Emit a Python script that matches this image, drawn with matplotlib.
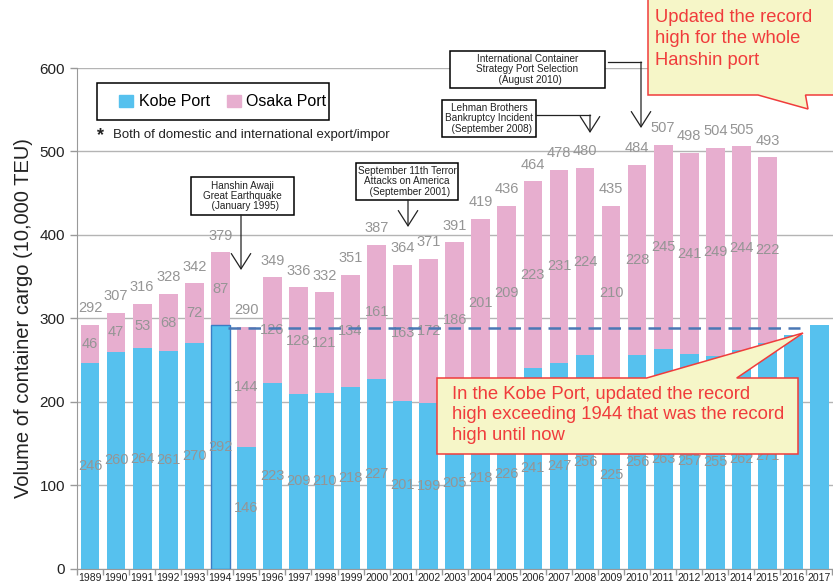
import numpy as np
import matplotlib
matplotlib.use("Agg")
import matplotlib.pyplot as plt
from matplotlib.patches import Polygon, Rectangle, Patch, FancyArrowPatch

plt.rcParams['font.family'] = ['Liberation Sans', 'DejaVu Sans']

# ---------------- data ----------------
years = [str(y) for y in range(1989, 2018)]
kobe = [246, 260, 264, 261, 270, 292, 146, 223, 209, 210, 218, 227, 201, 199, 205,
        218, 226, 241, 247, 256, 225, 256, 263, 257, 255, 262, 271, 280, 292]
osaka = [46, 47, 53, 68, 72, 87, 144, 126, 128, 121, 134, 161, 163, 172, 186,
         201, 209, 223, 231, 224, 210, 228, 245, 241, 249, 244, 222]
totals = [292, 307, 316, 328, 342, 379, 290, 349, 336, 332, 351, 387, 364, 371, 391,
          419, 436, 464, 478, 480, 435, 484, 507, 498, 504, 505, 493]
kobe_labelled = 27          # Kobe values printed for 1989-2015 only
record_level = 289          # dashed "record" line level
record_year_idx = 5         # 1994

blue = '#56C1EE'
pink = '#E7AECF'
label_gray = '#959595'

W, H = 833, 585
fig = plt.figure(figsize=(W / 100, H / 100), dpi=100)

def P(x, y):
    """image pixel -> figure fraction"""
    return (x / W, 1 - y / H)

ax_left, ax_top, ax_bottom = 77, 68, 568.7
ax = fig.add_axes([ax_left / W, 1 - ax_bottom / H, 1 - ax_left / W, (ax_bottom - ax_top) / H])

x = np.arange(len(years))
n_os = len(osaka)
kobe_arr = np.array(kobe, dtype=float)
osaka_arr = np.array(osaka, dtype=float)

ax.bar(x, kobe_arr, width=0.72, color=blue, zorder=2)
ax.bar(x[:n_os], osaka_arr, bottom=kobe_arr[:n_os], width=0.72, color=pink, zorder=2)
# highlight 1994 kobe bar
ax.bar(x[record_year_idx], kobe_arr[record_year_idx], width=0.72, color=blue,
       edgecolor='#3C7CC4', linewidth=1.0, zorder=3)

ax.set_xlim(-0.45, 28.52)
ax.set_ylim(0, 600)
ax.set_yticks(range(0, 601, 100))
ax.tick_params(axis='y', labelsize=11, colors='#999999', labelcolor='#222222', length=5, width=1)
ax.set_xticks(x)
ax.set_xticklabels(years, fontsize=7.5, color='#222222')
ax.tick_params(axis='x', length=0, pad=3)
ax.set_xticks(np.arange(-0.5, len(years), 1), minor=True)
ax.tick_params(axis='x', which='minor', length=4, color='#999999', width=1)
ax.grid(axis='y', color='#b4b4b4', linewidth=1.0, zorder=0)
ax.set_axisbelow(True)
for s in ['top', 'right']:
    ax.spines[s].set_visible(False)
for s in ['left', 'bottom']:
    ax.spines[s].set_color('#999999')
ax.set_ylabel('Volume of container cargo (10,000 TEU)', fontsize=14.5, color='#222222')
ax.yaxis.set_label_coords(-(77 - 33) / (833 - 77), 0.5)

# value labels
for i in range(kobe_labelled):
    ax.text(x[i], kobe_arr[i] / 2, str(kobe[i]), ha='center', va='center',
            fontsize=10.5, color=label_gray, zorder=4)
for i in range(n_os):
    ax.text(x[i], kobe_arr[i] + osaka_arr[i] / 2, str(osaka[i]), ha='center', va='center',
            fontsize=10.5, color=label_gray, zorder=4)
    ax.text(x[i], kobe_arr[i] + osaka_arr[i] + 20, str(totals[i]), ha='center', va='center',
            fontsize=10.5, color=label_gray, zorder=4)

# dashed record line
ax.plot([5.3, 27.25], [record_level, record_level], linestyle=(0, (5, 3)),
        color='#4A78B5', linewidth=1.8, zorder=5)

# ---------------- legend ----------------
fig.add_artist(Rectangle(P(97, 120), (329 - 97) / W, (120 - 83) / H, transform=fig.transFigure,
                         fill=True, facecolor='white', edgecolor='black', linewidth=1.1, zorder=6))
handles = [Patch(color=blue, label='Kobe Port'), Patch(color=pink, label='Osaka Port')]
leg = fig.legend(handles=handles, loc='center left', bbox_to_anchor=P(105, 102), ncol=2,
                 frameon=False, fontsize=11.5, handlelength=0.85, handleheight=0.85,
                 handletextpad=0.35, columnspacing=1.1)
leg.set_zorder(7)
fig.text(*P(97, 136), '*', fontsize=13, fontweight='bold', va='center', ha='left', color='#222222')
fig.text(*P(113, 135), 'Both of domestic and international export/impor', fontsize=9.5,
         va='center', ha='left', color='#222222')

# ---------------- event boxes ----------------
def event_box(x0, y0, x1, y1, text):
    fig.add_artist(Rectangle(P(x0, y1), (x1 - x0) / W, (y1 - y0) / H, transform=fig.transFigure,
                             facecolor='white', edgecolor='black', linewidth=1.1, zorder=6))
    fig.text(*P((x0 + x1) / 2, (y0 + y1) / 2), text, fontsize=7.2, ha='center', va='center',
             multialignment='center', linespacing=1.05, color='#222222', zorder=7)

def fig_line(pts):
    xs = [P(a, b)[0] for a, b in pts]
    ys = [P(a, b)[1] for a, b in pts]
    fig.add_artist(plt.Line2D(xs, ys, transform=fig.transFigure, color='#222222',
                              linewidth=0.9, zorder=6))

def fig_arrow(start, end):
    fig.add_artist(FancyArrowPatch(
        P(*start), P(*end), transform=fig.transFigure,
        arrowstyle='->,head_length=1.1,head_width=0.7', mutation_scale=10,
        color='#222222', linewidth=0.9, zorder=6, shrinkA=0, shrinkB=0))

event_box(191, 177, 294, 215, 'Hanshin Awaji\nGreat Earthquake\n  (January 1995)')
fig_arrow((241, 215), (241, 270))

event_box(356, 163, 458, 200, 'September 11th Terror\nAttacks on America\n  (September 2001)')
fig_arrow((408, 200), (408, 227))

event_box(442, 100, 536, 137, 'Lehman Brothers\nBankruptcy Incident\n  (September 2008)')
fig_line([(536, 115), (590, 115)])
fig_arrow((590, 115), (590, 133))

event_box(450, 51, 605, 88, 'International Container\nStrategy Port Selection\n  (August 2010)')
fig_line([(608, 62), (641, 62)])
fig_arrow((641, 62), (641, 128))

# ---------------- callouts ----------------
yellow = '#F6F6C8'
red_edge = '#F03C3C'
red_text = '#F03C3C'

c1 = [(648, -3), (836, -3), (836, 95), (805.5, 95), (808, 109), (758, 95), (648, 95)]
fig.add_artist(Polygon([P(a, b) for a, b in c1], closed=True, transform=fig.transFigure,
                       facecolor=yellow, edgecolor=red_edge, linewidth=1.1, zorder=8))
fig.text(*P(655, 9), 'Updated the record\nhigh for the whole\nHanshin port', fontsize=13.2,
         color=red_text, ha='left', va='top', linespacing=1.33, zorder=9)

c2 = [(437, 378), (646.7, 378), (803, 333), (736.7, 378), (798, 378), (798, 454), (437, 454)]
fig.add_artist(Polygon([P(a, b) for a, b in c2], closed=True, transform=fig.transFigure,
                       facecolor=yellow, edgecolor=red_edge, linewidth=1.1, zorder=8))
fig.text(*P(452, 386), 'In the Kobe Port, updated the record\nhigh exceeding 1944 that was the record\nhigh until now',
         fontsize=13.3, color=red_text, ha='left', va='top', linespacing=1.26, zorder=9)

fig.savefig('out.png', dpi=100)
